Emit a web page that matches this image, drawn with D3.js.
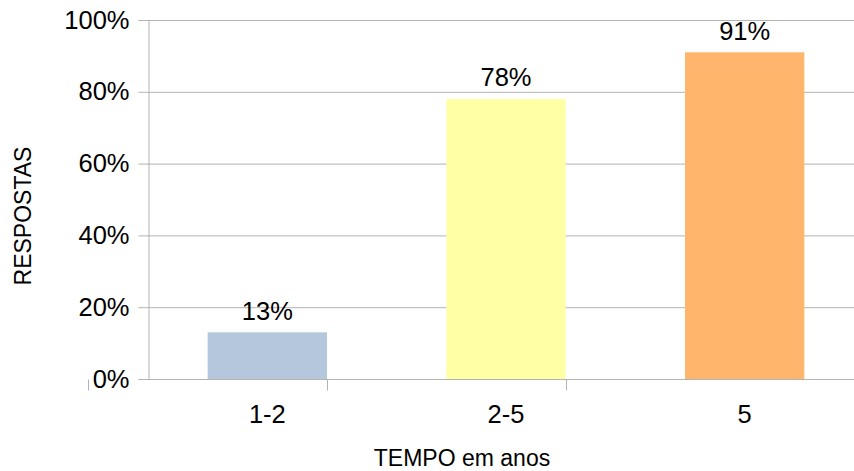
<!DOCTYPE html>
<html>
<head>
<meta charset="utf-8">
<script src="https://cdn.jsdelivr.net/npm/d3@7/dist/d3.min.js"></script>
<style>
  html, body { margin: 0; padding: 0; background: #fff; }
  svg { display: block; font-family: "Liberation Sans", Arial, sans-serif; }
</style>
</head>
<body>
<svg id="chart" width="854" height="471"></svg>
<script>
// Share of responses by time bracket (years)
const categories = ["1-2", "2-5", "5"];
const values = [0.13, 0.78, 0.91];
const barColors = ["#b4c7dc", "#ffffa6", "#ffb66c"];
const yTicks = [0, 0.2, 0.4, 0.6, 0.8, 1.0];

const svg = d3.select("#chart");
const plotLeft = 148, plotRight = 864, plotTop = 20, plotBottom = 379;
const gridColor = "#b3b3b3";
const labelSize = "25.5px";
const titleSize = "23px";

const x = d3.scaleBand().domain(categories).range([plotLeft, plotRight]).paddingInner(0.5).paddingOuter(0.25);
const y = d3.scaleLinear().domain([0, 1]).range([plotBottom, plotTop]);

// horizontal gridlines
svg.append("g").selectAll("line").data(yTicks).join("line")
  .attr("x1", plotLeft).attr("x2", 854)
  .attr("y1", d => y(d) + 0.5).attr("y2", d => y(d) + 0.5)
  .attr("stroke", gridColor).attr("stroke-width", 1);

// bars
svg.append("g").selectAll("rect").data(values).join("rect")
  .attr("x", (d, i) => x(categories[i]))
  .attr("width", x.bandwidth())
  .attr("y", d => y(d))
  .attr("height", d => y(0) - y(d))
  .attr("fill", (d, i) => barColors[i]);

// y axis
const yAxis = svg.append("g").attr("transform", `translate(${plotLeft + 0.5},0)`)
  .call(d3.axisLeft(y).tickValues(yTicks).tickFormat(d3.format(".0%")).tickSizeInner(10).tickSizeOuter(0).tickPadding(9));
yAxis.select(".domain").attr("stroke", gridColor);
yAxis.selectAll(".tick line").attr("stroke", gridColor);
yAxis.selectAll(".tick text").attr("fill", "#000").style("font-size", labelSize).style("font-family", "Liberation Sans, Arial, sans-serif");

// x axis with boundary ticks between categories
const xg = svg.append("g").attr("transform", `translate(0,${plotBottom + 0.5})`);
xg.append("line").attr("x1", plotLeft).attr("x2", 854).attr("stroke", gridColor);
const step = x.step();
const bounds = d3.range(categories.length).map(i => x(categories[0]) - x.paddingOuter() * step - x.paddingInner() * step / 2 + i * step);
xg.selectAll("line.sep").data(bounds).join("line").attr("class", "sep")
  .attr("x1", d => Math.round(d) + 0.5).attr("x2", d => Math.round(d) + 0.5)
  .attr("y1", 0).attr("y2", 11).attr("stroke", gridColor);
xg.selectAll("text").data(categories).join("text")
  .attr("x", d => x(d) + x.bandwidth() / 2).attr("y", 43)
  .attr("text-anchor", "middle").style("font-size", labelSize).text(d => d);

// value labels
svg.append("g").selectAll("text").data(values).join("text")
  .attr("x", (d, i) => x(categories[i]) + x.bandwidth() / 2)
  .attr("y", d => y(d) - 12.5)
  .attr("text-anchor", "middle").style("font-size", labelSize)
  .text(d => d3.format(".0%")(d));

// axis titles
svg.append("text").attr("x", 462).attr("y", 466).attr("text-anchor", "middle")
  .style("font-size", titleSize).text("TEMPO em anos");
svg.append("text").attr("transform", "translate(31,216) rotate(-90)").attr("text-anchor", "middle")
  .style("font-size", titleSize).text("RESPOSTAS");
</script>
</body>
</html>
